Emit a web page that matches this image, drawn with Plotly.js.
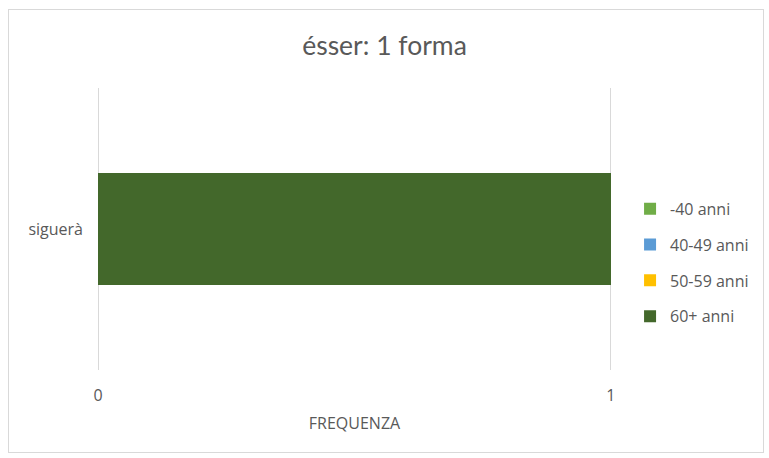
<!DOCTYPE html>
<html>
<head>
<meta charset="utf-8">
<script src="https://cdn.plot.ly/plotly-3.0.1.min.js"></script>
<style>
html,body{margin:0;padding:0;background:#fff;}
#wrap{position:relative;width:769px;height:458px;}
#chart{width:769px;height:458px;}
#frame{position:absolute;left:8px;top:9px;width:754px;height:442px;border:1px solid #d9d9d9;pointer-events:none;}
</style>
</head>
<body>
<div id="wrap"><div id="chart"></div><div id="frame"></div></div>
<script>
const categories = ["siguerà"];
const seriesNames = ["-40 anni", "40-49 anni", "50-59 anni", "60+ anni"];
const seriesValues = [[0], [0], [0], [1]];
const seriesColors = ["#70ad47", "#5b9bd5", "#ffc000", "#43682b"];
const xTickVals = [0, 1];
const xTickText = ["0", "1"];

const traces = seriesNames.map((name, i) => ({
  type: "bar",
  orientation: "h",
  name: name,
  y: categories,
  x: seriesValues[i],
  width: 0.4,
  legendgroup: "g" + i,
  marker: {color: seriesColors[i], line: {width: 0}},
  hoverinfo: "x+name"
}));

const txtFont = {family: "'Open Sans', sans-serif", size: 16, color: "#595959"};

const layout = {
  width: 769, height: 458,
  margin: {l: 96, r: 156, t: 88, b: 88},
  paper_bgcolor: "#ffffff",
  plot_bgcolor: "#ffffff",
  barmode: "stack",
  title: {
    text: "ésser: 1 forma",
    font: {family: "Lato, 'Open Sans', sans-serif", size: 26.5, color: "#595959"},
    x: 0.5, xanchor: "center", xref: "container",
    y: 1 - 46/458, yanchor: "middle", yref: "container"
  },
  xaxis: {
    range: [-0.004, 1.004],
    tickvals: xTickVals,
    ticktext: xTickText,
    showgrid: true,
    gridcolor: "#d9d9d9",
    gridwidth: 1,
    zeroline: false,
    showline: false,
    ticks: "",
    tickfont: txtFont,
    ticklabelstandoff: 14,
    title: {
      text: "FREQUENZA",
      font: txtFont,
      standoff: 12
    },
    fixedrange: true
  },
  yaxis: {
    type: "category",
    showgrid: false,
    zeroline: false,
    showline: false,
    ticks: "",
    tickfont: txtFont,
    ticklabelstandoff: 12,
    fixedrange: true
  },
  legend: {
    x: 1.033, xanchor: "left",
    y: 0.38, yanchor: "middle",
    traceorder: "grouped",
    tracegroupgap: 12,
    font: txtFont,
    itemwidth: 30,
    bgcolor: "rgba(0,0,0,0)"
  },
  showlegend: true
};

Plotly.newPlot("chart", traces, layout, {displayModeBar: false, staticPlot: true});
</script>
</body>
</html>
